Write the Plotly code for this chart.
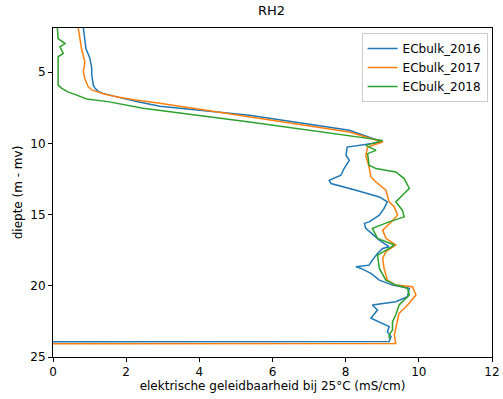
import plotly.graph_objects as go

# ECbulk 2016
d2016 = [1.9, 2.78, 3.34, 4.04, 4.74, 5.21, 5.9, 6.14, 6.35, 6.49, 6.65, 6.84, 7.10, 7.40, 8.03, 9.08, 9.91, 10.26, 10.84,
         11.19, 11.75, 12.24, 12.59, 12.82, 13.29, 13.76, 14.11, 14.57, 15.04, 15.51, 15.62, 15.97,
         16.79, 17.26, 17.38, 17.73, 18.20, 18.55, 18.67, 18.78, 19.13, 19.60, 19.95, 20.18, 20.77,
         21.12, 21.35, 21.70, 22.28, 22.63, 22.87, 23.22, 23.57, 23.92, 23.93]
ec2016 = [0.83, 0.87, 0.90, 1.01, 1.06, 1.06, 1.10, 1.15, 1.24, 1.36, 1.58, 1.91, 2.35, 2.92, 5.37, 8.10, 9.01, 8.04, 8.01,
          8.10, 7.96, 7.87, 7.55, 7.60, 8.28, 8.92, 9.14, 9.05, 8.92, 8.64, 8.51, 8.55,
          8.92, 9.19, 9.01, 8.87, 8.73, 8.64, 8.28, 8.42, 8.69, 8.92, 9.28, 9.74, 9.69,
          9.37, 8.73, 8.87, 8.69, 9.01, 9.19, 9.14, 9.24, 9.19, 0.0]

# ECbulk 2017
d2017 = [1.9, 2.64, 3.34, 4.27, 4.97, 5.44, 6.02, 6.25, 6.37, 6.55, 6.72, 6.95, 7.19, 8.15, 9.20, 9.91, 10.26, 10.84,
         11.66, 12.36, 12.71, 13.29, 14.11, 14.46, 15.04, 15.51, 16.09, 16.67, 17.14, 17.61, 18.08,
         18.78, 19.60, 19.95, 20.07, 20.65, 21.47, 21.93, 22.87, 23.45, 24.06, 24.07]
ec2017 = [0.69, 0.74, 0.78, 0.87, 0.83, 0.87, 0.96, 1.06, 1.19, 1.42, 1.74, 2.25, 2.92, 5.37, 8.10, 9.01, 8.60, 8.55,
          8.64, 8.69, 8.83, 9.10, 9.19, 9.33, 9.42, 9.25, 9.01, 9.10, 9.37, 9.10, 9.01,
          9.05, 9.14, 9.37, 9.83, 9.92, 9.65, 9.46, 9.37, 9.33, 9.37, 0.0]

# ECbulk 2018
d2018 = [1.9, 2.64, 2.99, 3.22, 3.69, 3.92, 4.97, 5.91, 6.14, 6.40, 6.61, 6.89, 7.07, 7.54, 8.50, 9.44,
         9.79, 10.14, 10.49, 10.72, 11.54, 11.77, 12.01, 12.47, 13.17, 13.64, 14.11, 14.69, 15.16,
         15.51, 15.97, 16.67, 17.14, 17.38, 17.85, 18.78, 19.60, 19.95, 20.18, 20.65, 21.35, 22.05,
         22.52, 23.10, 23.45, 23.70]
ec2018 = [0.12, 0.14, 0.33, 0.19, 0.28, 0.14, 0.14, 0.14, 0.24, 0.42, 0.65, 0.92, 1.50, 2.46, 5.37, 8.10,
          9.01, 8.55, 8.83, 8.60, 8.64, 8.83, 9.37, 9.60, 9.74, 9.55, 9.37, 9.55, 9.60,
          9.19, 8.73, 8.87, 9.33, 9.19, 8.87, 8.92, 9.10, 9.37, 9.69, 9.74, 9.46, 9.37,
          9.28, 9.28, 9.19, 9.19]

series = [
    ("ECbulk_2016", ec2016, d2016, "#1f77b4"),
    ("ECbulk_2017", ec2017, d2017, "#ff7f0e"),
    ("ECbulk_2018", ec2018, d2018, "#2ca02c"),
]
x_ticks = [0, 2, 4, 6, 8, 10, 12]
y_ticks = [5, 10, 15, 20, 25]

fig = go.Figure()
for name, x, y, c in series:
    fig.add_trace(go.Scatter(x=x, y=y, mode="lines", name=name,
                             line=dict(color=c, width=1.5)))

axis_common = dict(showgrid=False, zeroline=False, showline=True, linecolor="black",
                   linewidth=1, mirror=True, ticks="outside", ticklen=4, tickcolor="black",
                   tickfont=dict(size=12, color="black"), automargin=False)
fig.update_xaxes(range=[0, 12], tickvals=x_ticks,
                 title=dict(text="elektrische geleidbaarheid bij 25°C (mS/cm)",
                            font=dict(size=12, color="black"), standoff=3),
                 **axis_common)
fig.update_yaxes(range=[25, 1.9], tickvals=y_ticks,
                 title=dict(text="diepte (m - mv)", font=dict(size=12, color="black"), standoff=5),
                 **axis_common)

fig.update_layout(
    width=503, height=399,
    margin=dict(l=53, r=11, t=28, b=42),
    paper_bgcolor="white", plot_bgcolor="white",
    font=dict(family="DejaVu Sans", size=12, color="black"),
    title=dict(text="RH2", x=0.54, xanchor="center", y=0.985, yanchor="top",
               font=dict(size=13, color="black")),
    legend=dict(x=0.99, y=0.985, xanchor="right", yanchor="top",
                bgcolor="white", bordercolor="#cccccc", borderwidth=1,
                font=dict(size=12, color="black"), tracegroupgap=0),
    showlegend=True,
)

fig.write_html("out.html")
